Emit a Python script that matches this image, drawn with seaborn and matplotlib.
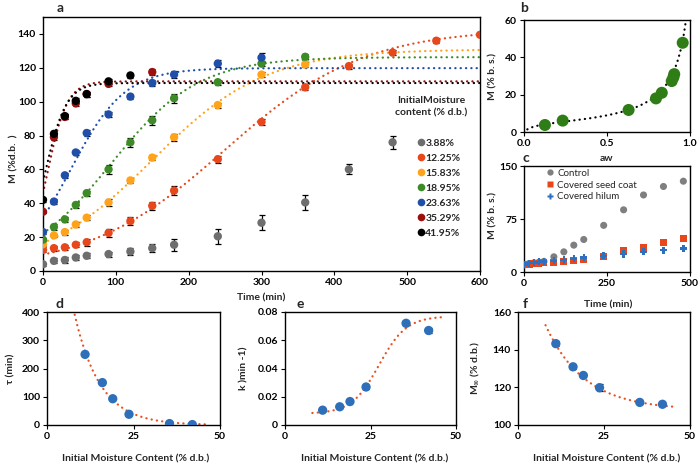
import numpy as np
import pandas as pd
import matplotlib
matplotlib.use("Agg")
import matplotlib.pyplot as plt
from matplotlib.lines import Line2D
import seaborn as sns

# ---------------- data: panel a (hydration kinetics) ----------------
series_labels = ["3.88%", "12.25%", "15.83%", "18.95%", "23.63%", "35.29%", "41.95%"]
series_colors = ["#6e6e6e", "#e8471c", "#ffa31a", "#3d8b26", "#1f4fa8", "#9b0f0f", "#000000"]

t_388 = [0, 15, 30, 45, 60, 90, 120, 150, 180, 240, 300, 360, 420, 480]
m_388 = [4, 6, 6.5, 8, 9, 10, 11.5, 13.5, 15.5, 20.5, 28.5, 40.5, 60, 76]
e_388 = [1, 1.5, 1.5, 1.5, 1.5, 1.5, 2, 2.5, 3.5, 4.5, 4.5, 4.5, 3, 4]

t_1225 = [0, 15, 30, 45, 60, 90, 120, 150, 180, 240, 300, 360, 420, 480, 540, 600]
m_1225 = [12.5, 13.5, 14, 15.5, 17, 22.5, 29.5, 38.5, 47.5, 66, 88, 108.5, 121, 129, 136, 139.5]
e_1225 = [1.5, 1.5, 1.5, 1.5, 2, 2.5, 2.5, 2.5, 2.5, 2, 2, 1.5, 1.5, 1.5, 1.5, 1]

t_1583 = [0, 15, 30, 45, 60, 90, 120, 150, 180, 240, 300, 360]
m_1583 = [15.8, 21, 23, 27.5, 31.5, 40.5, 53.5, 67, 79, 98, 116, 122]
e_1583 = [1, 1, 1.5, 1.5, 1.5, 2, 1.5, 1.5, 2, 1.5, 1.5, 1.5]

t_1895 = [0, 15, 30, 45, 60, 90, 120, 150, 180, 240, 300, 360]
m_1895 = [18.5, 26, 30.5, 39, 46, 60, 76, 89, 102, 111.5, 122.5, 126.5]
e_1895 = [1, 1.5, 1.5, 2, 1.5, 2.5, 2.5, 2.5, 2.5, 1.5, 1.5, 1.5]

t_2363 = [0, 15, 30, 45, 60, 90, 120, 150, 180, 240, 300]
m_2363 = [23, 41, 56.5, 70, 81.5, 92.5, 103, 111, 116, 122.5, 126]
e_2363 = [1, 1.5, 1.5, 1.5, 1.5, 1.5, 1.5, 2, 2, 2, 2.5]

t_3529 = [0, 15, 30, 45, 60, 90, 150]
m_3529 = [35, 79, 91, 99, 104.5, 110.5, 117.5]
e_3529 = [1, 1.5, 1.5, 1.5, 1.5, 1.5, 1.5]

t_4195 = [0, 15, 30, 45, 60, 90, 120]
m_4195 = [42, 81, 91.5, 100.5, 104.5, 112, 115.5]
e_4195 = [1, 1.5, 1.5, 1.5, 1.5, 1.5, 1.5]

# ---------------- data: fitted parameters (panels d, e, f) ----------------
imc = [11, 16, 19, 23.7, 35.4, 42]
tau = [250, 150, 93, 38, 5, 1.5]
k_rate = [0.0105, 0.0129, 0.0166, 0.0269, 0.072, 0.0669]
k_err = [0.0008, 0.0008, 0.0008, 0.0015, 0.0015, 0.002]
m_inf = [143.2, 130.9, 126.3, 119.8, 112, 111]
m_inf_err = [1.5, 1, 1, 2, 0.8, 0.8]
fit_series = ["12.25%", "15.83%", "18.95%", "23.63%", "35.29%", "41.95%"]

tau_A, tau_b = 1150.0, 0.135
k_lo, k_hi, k_mid, k_slope = 0.008, 0.077, 27.5, 0.25
minf_base, minf_A, minf_b = 108.0, 91.0, 0.088

# ---------------- data: panel b (sorption isotherm) ----------------
aw = [0.126, 0.233, 0.63, 0.795, 0.83, 0.89, 0.90, 0.905, 0.956]
m_iso = [3.75, 6.1, 11.8, 18, 21, 27.3, 29.3, 31, 47.8]
gab_Mm, gab_C, gab_K = 5.0, 20.0, 0.94

# ---------------- data: panel c (covered seeds) ----------------
t_c = [0, 15, 30, 45, 60, 90, 120, 150, 180, 240, 300, 360, 420, 480]
m_control = [10, 12, 13, 14, 15, 21.5, 28.5, 38, 46, 66, 88, 109, 121, 128.5]
m_seedcoat = [10, 11, 12, 12.5, 13, 13.5, 14.5, 16, 17.5, 22.5, 30, 35, 41.5, 48]
m_hilum = [10, 12.5, 13.5, 14.5, 15, 16, 17, 18.5, 20.5, 23, 25.5, 28.5, 31, 33]
c_labels = ["Control", "Covered seed coat", "Covered hilum"]
c_colors = ["#7f7f7f", "#e8471c", "#2e6fc0"]
c_markers = ["o", "s", "P"]

# ---------------- style ----------------
sns.set_theme(style="ticks")
plt.rcParams["font.family"] = ["Lato", "DejaVu Sans"]
plt.rcParams["font.weight"] = "bold"
plt.rcParams["axes.labelweight"] = "bold"
plt.rcParams["axes.edgecolor"] = "black"
plt.rcParams["axes.linewidth"] = 1.0
plt.rcParams["xtick.color"] = "black"
plt.rcParams["ytick.color"] = "black"
plt.rcParams["xtick.major.size"] = 3
plt.rcParams["ytick.major.size"] = 3
plt.rcParams["xtick.labelsize"] = 7.5
plt.rcParams["ytick.labelsize"] = 7.5
plt.rcParams["axes.labelsize"] = 7.5
plt.rcParams["mathtext.default"] = "bf"

W, H = 700, 468
fig = plt.figure(figsize=(7, 4.68), dpi=100)


def add_ax(l, t, r, b):
    return fig.add_axes([l / W, 1 - b / H, (r - l) / W, (b - t) / H])


ax_a = add_ax(43, 17, 480, 271)
ax_b = add_ax(524, 20, 690, 132)
ax_c = add_ax(524, 166, 690, 272)
ax_d = add_ax(47, 312, 220, 425)
ax_e = add_ax(285, 312, 456, 425)
ax_f = add_ax(518, 312, 690, 425)

for ax in [ax_a, ax_b, ax_c, ax_d, ax_e, ax_f]:
    for s in ax.spines.values():
        s.set_visible(True)
        s.set_color("black")
    ax.tick_params(direction="out", width=0.8, pad=2)

dot = dict(linestyle=(0, (0.1, 2.3)), linewidth=1.6, dash_capstyle="round")

# ---------------- panel a ----------------
pal = dict(zip(series_labels, series_colors))
pts = pd.concat([
    pd.DataFrame({"series": lab, "t": t, "M": m, "err": e})
    for lab, t, m, e in zip(series_labels,
                            [t_388, t_1225, t_1583, t_1895, t_2363, t_3529, t_4195],
                            [m_388, m_1225, m_1583, m_1895, m_2363, m_3529, m_4195],
                            [e_388, e_1225, e_1583, e_1895, e_2363, e_3529, e_4195])
], ignore_index=True)

t_fit = np.linspace(0, 600, 400)
fits = pd.concat([
    pd.DataFrame({"series": lab, "t": t_fit,
                  "M": mi / (1 + np.exp(-kk * (t_fit - ta)))})
    for lab, mi, kk, ta in zip(fit_series, m_inf, k_rate, tau)
], ignore_index=True)

sns.lineplot(data=fits, x="t", y="M", hue="series", palette=pal, estimator=None,
             legend=False, ax=ax_a, zorder=2, **dot)
ax_a.errorbar(pts["t"], pts["M"], yerr=pts["err"], fmt="none", ecolor="black",
              elinewidth=0.9, capsize=2.3, capthick=0.9, zorder=2.5)
sns.scatterplot(data=pts, x="t", y="M", hue="series", palette=pal, s=36,
                edgecolor="none", legend=False, ax=ax_a, zorder=3)
ax_a.set_xlim(0, 600)
ax_a.set_ylim(0, 150)
ax_a.set_xticks(range(0, 601, 100))
ax_a.set_yticks(range(0, 141, 20))
ax_a.set_xlabel("Time (min)")
ax_a.set_ylabel("M (%d.b.  )")
ax_a.xaxis.set_label_coords(0.5, -0.088)
ax_a.yaxis.set_label_coords(-0.055, 0.44)

handles_a = [Line2D([], [], marker="o", linestyle="none", markersize=5.5,
                    markerfacecolor=c, markeredgecolor="none", label=l)
             for l, c in zip(series_labels, series_colors)]
ax_a.legend(handles=handles_a, loc="upper left", bbox_to_anchor=(0.857, 0.522),
            frameon=False, fontsize=7.5, handlelength=0.6, handletextpad=0.15,
            labelspacing=0.55, borderpad=0, borderaxespad=0)
ax_a.text(0.889, 0.646, "InitialMoisture\ncontent (% d.b.)", transform=ax_a.transAxes,
          ha="center", va="center", fontsize=7.5, linespacing=1.45)

# ---------------- panel b ----------------
aw_fit = np.linspace(0.02, 0.975, 300)
kaw = gab_K * aw_fit
m_gab = gab_Mm * gab_C * kaw / ((1 - kaw) * (1 - kaw + gab_C * kaw))
sns.lineplot(x=aw_fit, y=m_gab, color="black", ax=ax_b, zorder=2, **dot)
sns.scatterplot(x=aw, y=m_iso, color="#2f7d17", s=75, edgecolor="none", ax=ax_b, zorder=3)
ax_b.set_xlim(0, 1)
ax_b.set_ylim(0, 60)
ax_b.set_xticks([0, 0.5, 1.0])
ax_b.set_xticklabels(["0.0", "0.5", "1.0"])
ax_b.set_yticks([0, 20, 40, 60])
ax_b.set_xlabel("aw")
ax_b.set_ylabel("M (% b. s.)")
ax_b.xaxis.set_label_coords(0.5, -0.2)
ax_b.yaxis.set_label_coords(-0.16, 0.5)

# ---------------- panel c ----------------
cdf = pd.concat([
    pd.DataFrame({"group": lab, "t": t_c, "M": m})
    for lab, m in zip(c_labels, [m_control, m_seedcoat, m_hilum])
], ignore_index=True)
sns.scatterplot(data=cdf, x="t", y="M", hue="group", style="group",
                palette=dict(zip(c_labels, c_colors)),
                markers=dict(zip(c_labels, c_markers)), s=26, edgecolor="none",
                legend=False, ax=ax_c, zorder=3)
ax_c.set_xlim(0, 500)
ax_c.set_ylim(0, 150)
ax_c.set_xticks([0, 250, 500])
ax_c.set_yticks([0, 75, 150])
ax_c.set_xlabel("Time (min)")
ax_c.set_ylabel("M (% b. s.)")
ax_c.xaxis.set_label_coords(0.506, -0.27)
ax_c.yaxis.set_label_coords(-0.16, 0.53)
handles_c = [Line2D([], [], marker=mk, linestyle="none", markersize=4.5,
                    markerfacecolor=c, markeredgecolor="none", label=l)
             for l, c, mk in zip(c_labels, c_colors, c_markers)]
ax_c.legend(handles=handles_c, loc="upper left", bbox_to_anchor=(0.136, 0.975),
            frameon=False, fontsize=7, handlelength=0.7, handletextpad=0.4,
            labelspacing=0.3, borderpad=0, borderaxespad=0,
            prop={"weight": "normal", "size": 7})

# ---------------- panels d, e, f ----------------
x_fit = np.linspace(8, 46, 200)
blue = "#2e6fba"
orange = "#e8501e"

sns.lineplot(x=x_fit, y=tau_A * np.exp(-tau_b * x_fit), color=orange, ax=ax_d, zorder=2, **dot)
sns.scatterplot(x=imc, y=tau, color=blue, s=45, edgecolor="none", ax=ax_d, zorder=3)
ax_d.set_xlim(0, 50)
ax_d.set_ylim(0, 400)
ax_d.set_xticks([0, 25, 50])
ax_d.set_yticks(range(0, 401, 100))
ax_d.set_ylabel("τ (min)")

sns.lineplot(x=x_fit, y=k_lo + (k_hi - k_lo) / (1 + np.exp(-k_slope * (x_fit - k_mid))),
             color=orange, ax=ax_e, zorder=2, **dot)
ax_e.errorbar(imc, k_rate, yerr=k_err, fmt="none", ecolor="black", elinewidth=0.9,
              capsize=2.3, capthick=0.9, zorder=2.5)
sns.scatterplot(x=imc, y=k_rate, color=blue, s=45, edgecolor="none", ax=ax_e, zorder=3)
ax_e.set_xlim(0, 50)
ax_e.set_ylim(0, 0.08)
ax_e.set_xticks([0, 25, 50])
ax_e.set_yticks([0, 0.02, 0.04, 0.06, 0.08])
ax_e.set_yticklabels(["0", "0.02", "0.04", "0.06", "0.08"])
ax_e.set_ylabel("k )min -1)")

sns.lineplot(x=x_fit, y=minf_base + minf_A * np.exp(-minf_b * x_fit), color=orange,
             ax=ax_f, zorder=2, **dot)
ax_f.errorbar(imc, m_inf, yerr=m_inf_err, fmt="none", ecolor="black", elinewidth=0.9,
              capsize=2.3, capthick=0.9, zorder=2.5)
sns.scatterplot(x=imc, y=m_inf, color=blue, s=45, edgecolor="none", ax=ax_f, zorder=3)
ax_f.set_xlim(0, 50)
ax_f.set_ylim(100, 160)
ax_f.set_xticks([0, 25, 50])
ax_f.set_yticks([100, 120, 140, 160])
ax_f.set_ylabel("M$_{\\infty}$ (% d.b.)")

for ax, xc, yc in [(ax_d, 0.514, -0.185), (ax_e, 0.526, -0.216), (ax_f, 0.515, -0.209)]:
    ax.set_xlabel("Initial Moisture Content (% d.b.)")
    ax.xaxis.set_label_coords(xc, -0.26)
    ax.yaxis.set_label_coords(yc, 0.5)

# ---------------- panel letters ----------------
for letter, px, py in [("a", 60, 8), ("b", 524, 8), ("c", 526, 158),
                       ("d", 60, 304), ("e", 300, 304), ("f", 525, 304)]:
    fig.text(px / W, 1 - py / H, letter, fontsize=10, fontweight="bold",
             ha="center", va="center")

fig.savefig("out.png", dpi=100)
